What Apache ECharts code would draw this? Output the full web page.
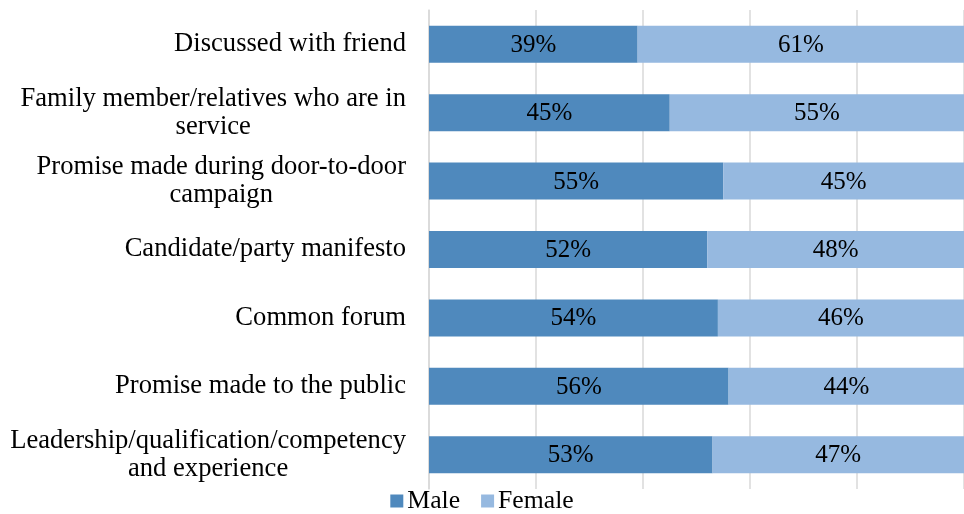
<!DOCTYPE html>
<html>
<head>
<meta charset="utf-8">
<script src="https://cdn.jsdelivr.net/npm/echarts@6/dist/echarts.min.js"></script>
<style>
  html, body { margin: 0; padding: 0; background: #fff; }
  #chart { width: 964px; height: 514px; }
</style>
</head>
<body>
<div id="chart"></div>
<script>
// Reasons for choosing a candidate, split by gender (percent of respondents)
const categories = [
  'Discussed with friend',
  'Family member/relatives who are in\nservice',
  'Promise made during door-to-door\ncampaign',
  'Candidate/party manifesto',
  'Common forum',
  'Promise made to the public',
  'Leadership/qualification/competency\nand experience'
];
const maleValues = [39, 45, 55, 52, 54, 56, 53];
const femaleValues = [61, 55, 45, 48, 46, 44, 47];
const seriesNames = ['Male', 'Female'];
const xTicks = [0, 20, 40, 60, 80, 100];

const FONT = '"Liberation Serif", "Times New Roman", serif';
const chart = echarts.init(document.getElementById('chart'));

const barLabel = {
  show: true,
  position: 'inside',
  offset: [0, 1],
  formatter: p => p.value + '%',
  color: '#000',
  fontFamily: FONT,
  fontSize: 25
};

chart.setOption({
  animation: false,
  textStyle: { fontFamily: FONT },
  grid: { left: 429, width: 538, top: 10, height: 479, containLabel: false },
  legend: {
    data: seriesNames,
    left: 'center',
    top: 488,
    padding: 0,
    icon: 'rect',
    itemWidth: 13,
    itemHeight: 13,
    itemGap: 21,
    textStyle: { fontFamily: FONT, fontSize: 25.7, color: '#000', padding: [0, 0, 0, -1] }
  },
  xAxis: {
    type: 'value',
    min: xTicks[0],
    max: xTicks[xTicks.length - 1],
    interval: xTicks[1] - xTicks[0],
    axisLabel: { show: false },
    axisLine: { show: false },
    axisTick: { show: false },
    splitLine: { show: true, lineStyle: { color: '#d9d9d9', width: 1.5 } }
  },
  yAxis: {
    type: 'category',
    data: categories,
    inverse: true,
    axisLine: { show: true, lineStyle: { color: '#d9d9d9', width: 1.5 } },
    axisTick: { show: false },
    axisLabel: {
      margin: 23,
      color: '#000',
      fontFamily: FONT,
      fontSize: 26.6,
      lineHeight: 28,
      formatter: v => v.split('\n').map(s => '{c|' + s + '}').join('\n'),
      rich: {
        c: { align: 'center', fontFamily: FONT, fontSize: 26.6, lineHeight: 28, color: '#000' }
      }
    }
  },
  series: [
    {
      name: seriesNames[0],
      type: 'bar',
      stack: 'total',
      data: maleValues,
      barWidth: 37,
      itemStyle: { color: '#4f89bd' },
      label: barLabel
    },
    {
      name: seriesNames[1],
      type: 'bar',
      stack: 'total',
      data: femaleValues,
      barWidth: 37,
      itemStyle: { color: '#96b9e0' },
      label: barLabel
    }
  ]
});
</script>
</body>
</html>
